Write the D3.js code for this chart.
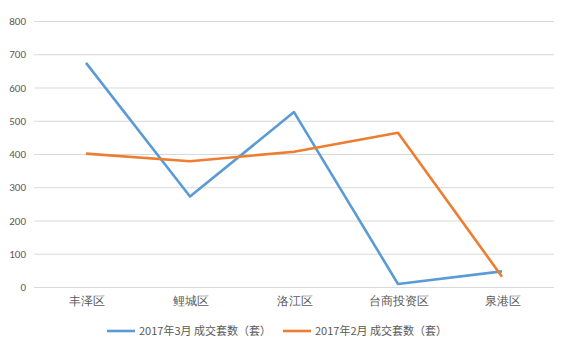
<!DOCTYPE html>
<html>
<head>
<meta charset="utf-8">
<script src="https://cdn.jsdelivr.net/npm/d3@7"></script>
<style>
  html, body { margin: 0; padding: 0; background: #fff; }
  svg { display: block; font-family: "Noto Sans CJK SC", "Microsoft YaHei", sans-serif; }
</style>
</head>
<body>
<svg id="chart" width="561" height="349"></svg>
<script>
// 各区成交套数
const districts = ["丰泽区", "鲤城区", "洛江区", "台商投资区", "泉港区"];
const march = [674, 272, 526, 9, 47];
const february = [401, 378, 407, 464, 31];
const seriesNames = ["2017年3月 成交套数（套）", "2017年2月 成交套数（套）"];
const seriesColors = ["#5B9BD5", "#ED7D31"];
const yTicks = [0, 100, 200, 300, 400, 500, 600, 700, 800];

(function draw() {
  const svg = d3.select("#chart");
  const plot = { left: 34, right: 554, top: 21, bottom: 287 };

  const x = d3.scalePoint().domain(districts).range([plot.left, plot.right]).padding(0.5);
  const y = d3.scaleLinear().domain([0, 800]).range([plot.bottom, plot.top]);

  // 网格线与纵轴刻度
  const yAxis = d3.axisLeft(y).tickValues(yTicks).tickSize(-(plot.right - plot.left)).tickPadding(8);
  const gy = svg.append("g").attr("transform", `translate(${plot.left},0)`).call(yAxis);
  gy.select(".domain").remove();
  gy.selectAll(".tick line").attr("stroke", "#D9D9D9").attr("stroke-width", 1);
  gy.selectAll(".tick text")
    .attr("fill", "#595959")
    .style("font-family", "Calibri, 'Liberation Sans', sans-serif")
    .style("font-size", "11px");

  // 横轴类别
  const xAxis = d3.axisBottom(x).tickSize(0).tickPadding(9);
  const gx = svg.append("g").attr("transform", `translate(0,${plot.bottom})`).call(xAxis);
  gx.select(".domain").remove();
  gx.selectAll(".tick text").attr("fill", "#595959").style("font-size", "12px");

  // 折线
  const line = d3.line().x((d, i) => x(districts[i])).y(d => y(d));
  [march, february].forEach((vals, k) => {
    svg.append("path")
      .datum(vals)
      .attr("d", line)
      .attr("fill", "none")
      .attr("stroke", seriesColors[k])
      .attr("stroke-width", 2.6)
      .attr("stroke-linejoin", "round");
  });

  // 图例
  const legendX = [107, 283];
  seriesNames.forEach((name, k) => {
    const g = svg.append("g").attr("transform", `translate(${legendX[k]},331)`);
    g.append("line").attr("x1", 0).attr("x2", 28).attr("y1", 0).attr("y2", 0)
      .attr("stroke", seriesColors[k]).attr("stroke-width", 2.6);
    g.append("text").attr("x", 32).attr("y", 0).attr("dy", "0.35em")
      .attr("fill", "#595959").style("font-size", "11px").text(name);
  });
})();
</script>
</body>
</html>
